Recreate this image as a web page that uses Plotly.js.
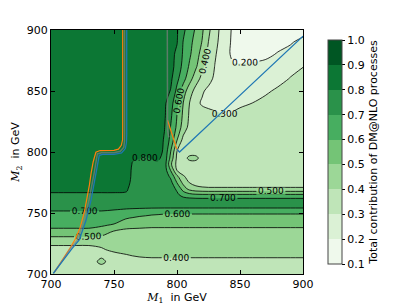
<!DOCTYPE html>
<html><head><meta charset="utf-8">
<script src="https://cdn.plot.ly/plotly-3.0.1.min.js"></script>
<style>html,body{margin:0;padding:0;background:#fff;} #chart{width:407px;height:305px;}</style>
</head><body><div id="chart"></div>
<script>
// Grid coordinates (GeV)
const m1 = [700,710,720,730,740,750,760,765,770,775,780,785,790,795,800,805,810,815,820,825,830,835,840,845,850,860,870,880,890,900];
const m2 = [700,705,710,715,720,725,730,735,740,745,750,755,760,765,770,775,780,785,790,795,800,810,820,830,840,850,860,870,880,890,900];
// Total contribution of DM@NLO processes, one row per M2 value
const z700 = [0.35,0.35,0.35,0.35,0.35,0.34,0.34,0.34,0.34,0.335,0.33,0.33,0.33,0.33,0.33,0.33,0.33,0.33,0.33,0.33,0.33,0.33,0.33,0.33,0.33,0.33,0.33,0.33,0.33,0.33];
const z705 = [0.36,0.36,0.36,0.36,0.38,0.36,0.36,0.36,0.36,0.355,0.35,0.35,0.35,0.35,0.35,0.35,0.35,0.35,0.35,0.35,0.35,0.35,0.35,0.35,0.35,0.35,0.35,0.35,0.35,0.35];
const z710 = [0.37,0.37,0.37,0.37,0.415,0.37,0.375,0.378,0.38,0.38,0.38,0.38,0.38,0.38,0.38,0.38,0.38,0.38,0.38,0.38,0.38,0.38,0.38,0.38,0.38,0.38,0.38,0.38,0.38,0.38];
const z715 = [0.38,0.38,0.38,0.38,0.39,0.385,0.395,0.401,0.405,0.408,0.41,0.41,0.41,0.41,0.41,0.41,0.41,0.41,0.41,0.41,0.41,0.41,0.41,0.41,0.41,0.41,0.41,0.41,0.41,0.41];
const z720 = [0.39,0.39,0.39,0.39,0.395,0.41,0.42,0.423,0.425,0.428,0.43,0.43,0.43,0.43,0.43,0.43,0.43,0.43,0.43,0.43,0.43,0.43,0.43,0.43,0.43,0.43,0.43,0.43,0.43,0.43];
const z725 = [0.405,0.405,0.405,0.405,0.41,0.43,0.44,0.443,0.445,0.448,0.45,0.45,0.45,0.45,0.45,0.45,0.45,0.45,0.45,0.45,0.45,0.45,0.45,0.45,0.45,0.45,0.45,0.45,0.45,0.45];
const z730 = [0.49,0.49,0.49,0.49,0.48,0.46,0.46,0.463,0.465,0.468,0.47,0.47,0.47,0.47,0.47,0.47,0.47,0.47,0.47,0.47,0.47,0.47,0.47,0.47,0.47,0.47,0.47,0.47,0.47,0.47];
const z735 = [0.58,0.58,0.58,0.58,0.56,0.495,0.48,0.483,0.485,0.485,0.485,0.485,0.485,0.485,0.485,0.485,0.485,0.485,0.485,0.485,0.485,0.485,0.485,0.485,0.485,0.485,0.485,0.485,0.485,0.485];
const z740 = [0.62,0.62,0.62,0.62,0.61,0.59,0.53,0.52,0.515,0.512,0.51,0.51,0.51,0.51,0.51,0.51,0.51,0.51,0.51,0.51,0.51,0.51,0.51,0.51,0.51,0.51,0.51,0.51,0.51,0.51];
const z745 = [0.66,0.66,0.66,0.66,0.65,0.64,0.595,0.583,0.57,0.565,0.56,0.558,0.555,0.552,0.55,0.55,0.55,0.55,0.55,0.55,0.55,0.55,0.55,0.55,0.55,0.55,0.55,0.55,0.55,0.55];
const z750 = [0.69,0.69,0.69,0.69,0.69,0.68,0.66,0.65,0.64,0.63,0.62,0.615,0.61,0.61,0.61,0.61,0.61,0.61,0.61,0.61,0.61,0.61,0.61,0.61,0.61,0.61,0.61,0.61,0.61,0.61];
const z755 = [0.72,0.72,0.72,0.72,0.72,0.72,0.72,0.72,0.72,0.72,0.72,0.72,0.72,0.72,0.72,0.72,0.72,0.72,0.72,0.72,0.72,0.72,0.72,0.72,0.72,0.72,0.72,0.72,0.72,0.72];
const z760 = [0.76,0.76,0.76,0.76,0.76,0.76,0.76,0.76,0.76,0.76,0.76,0.76,0.76,0.765,0.765,0.76,0.76,0.76,0.76,0.76,0.76,0.76,0.76,0.76,0.76,0.76,0.76,0.76,0.76,0.76];
const z765 = [0.79,0.79,0.79,0.79,0.79,0.79,0.79,0.785,0.78,0.78,0.78,0.78,0.78,0.77,0.72,0.66,0.63,0.615,0.61,0.61,0.61,0.61,0.61,0.61,0.61,0.61,0.61,0.61,0.61,0.61];
const z770 = [0.82,0.82,0.82,0.82,0.82,0.82,0.81,0.77,0.76,0.76,0.76,0.762,0.765,0.75,0.68,0.55,0.46,0.425,0.415,0.41,0.41,0.41,0.41,0.41,0.41,0.41,0.41,0.41,0.41,0.41];
const z775 = [0.84,0.84,0.84,0.84,0.84,0.84,0.835,0.77,0.76,0.755,0.755,0.76,0.76,0.73,0.595,0.47,0.395,0.37,0.36,0.36,0.36,0.36,0.36,0.36,0.36,0.36,0.36,0.36,0.36,0.36];
const z780 = [0.85,0.85,0.85,0.85,0.85,0.85,0.85,0.775,0.765,0.76,0.76,0.765,0.76,0.68,0.52,0.41,0.365,0.355,0.35,0.35,0.35,0.35,0.35,0.35,0.35,0.35,0.35,0.35,0.35,0.35];
const z785 = [0.85,0.85,0.85,0.85,0.85,0.85,0.85,0.78,0.765,0.76,0.765,0.77,0.755,0.595,0.398,0.355,0.35,0.35,0.35,0.35,0.35,0.35,0.35,0.35,0.35,0.35,0.35,0.35,0.35,0.35];
const z790 = [0.85,0.85,0.85,0.85,0.85,0.85,0.85,0.79,0.77,0.765,0.775,0.78,0.76,0.52,0.37,0.35,0.35,0.35,0.35,0.35,0.35,0.35,0.35,0.35,0.35,0.35,0.35,0.35,0.35,0.35];
const z795 = [0.85,0.85,0.85,0.85,0.85,0.85,0.85,0.81,0.805,0.79,0.81,0.815,0.77,0.57,0.38,0.35,0.43,0.43,0.35,0.35,0.35,0.35,0.35,0.35,0.35,0.35,0.35,0.35,0.35,0.35];
const z800 = [0.85,0.85,0.85,0.85,0.85,0.85,0.85,0.84,0.83,0.82,0.83,0.84,0.78,0.598,0.395,0.35,0.35,0.35,0.35,0.35,0.35,0.35,0.35,0.35,0.35,0.35,0.35,0.35,0.35,0.35];
const z810 = [0.85,0.85,0.85,0.85,0.85,0.85,0.85,0.85,0.85,0.85,0.85,0.85,0.79,0.67,0.505,0.37,0.35,0.35,0.35,0.35,0.35,0.35,0.35,0.35,0.35,0.35,0.35,0.35,0.35,0.35];
const z820 = [0.85,0.85,0.85,0.85,0.85,0.85,0.85,0.85,0.85,0.85,0.85,0.85,0.805,0.695,0.58,0.45,0.37,0.35,0.35,0.35,0.35,0.35,0.35,0.35,0.35,0.35,0.35,0.35,0.35,0.35];
const z830 = [0.85,0.85,0.85,0.85,0.85,0.85,0.85,0.85,0.85,0.85,0.85,0.85,0.815,0.72,0.598,0.48,0.385,0.35,0.335,0.325,0.315,0.305,0.295,0.31,0.325,0.34,0.35,0.35,0.35,0.35];
const z840 = [0.85,0.85,0.85,0.85,0.85,0.85,0.85,0.85,0.85,0.85,0.85,0.85,0.82,0.74,0.625,0.498,0.398,0.32,0.29,0.28,0.275,0.275,0.275,0.28,0.285,0.301,0.325,0.34,0.35,0.35];
const z850 = [0.85,0.85,0.85,0.85,0.85,0.85,0.85,0.85,0.85,0.85,0.85,0.85,0.84,0.795,0.675,0.55,0.44,0.367,0.31,0.28,0.265,0.255,0.25,0.25,0.255,0.265,0.285,0.315,0.335,0.345];
const z860 = [0.85,0.85,0.85,0.85,0.85,0.85,0.85,0.85,0.85,0.85,0.85,0.85,0.85,0.82,0.725,0.633,0.54,0.44,0.373,0.327,0.285,0.26,0.245,0.24,0.24,0.245,0.255,0.27,0.305,0.33];
const z870 = [0.85,0.85,0.85,0.85,0.85,0.85,0.85,0.85,0.85,0.85,0.85,0.85,0.85,0.83,0.77,0.667,0.586,0.514,0.42,0.355,0.298,0.26,0.215,0.21,0.215,0.23,0.24,0.25,0.27,0.298];
const z880 = [0.85,0.85,0.85,0.85,0.85,0.85,0.85,0.85,0.85,0.85,0.85,0.85,0.85,0.83,0.78,0.686,0.614,0.543,0.46,0.375,0.31,0.265,0.215,0.18,0.16,0.15,0.17,0.21,0.235,0.26];
const z890 = [0.85,0.85,0.85,0.85,0.85,0.85,0.85,0.85,0.85,0.85,0.85,0.85,0.85,0.84,0.805,0.695,0.629,0.562,0.495,0.398,0.33,0.27,0.22,0.18,0.16,0.15,0.15,0.16,0.19,0.23];
const z900 = [0.85,0.85,0.85,0.85,0.85,0.85,0.85,0.85,0.85,0.85,0.85,0.85,0.85,0.85,0.81,0.72,0.65,0.586,0.514,0.42,0.343,0.278,0.222,0.185,0.16,0.15,0.15,0.15,0.15,0.16];
const zGrid = [z700,z705,z710,z715,z720,z725,z730,z735,z740,z745,z750,z755,z760,z765,z770,z775,z780,z785,z790,z795,z800,z810,z820,z830,z840,z850,z860,z870,z880,z890,z900];

// Overlaid curves (M1, M2)
const orangeLeftM1 = [703,707,711,715,719,723,726.5,729,730.5,731.8,733.5,735.6,739,750,753.5,755.8,756.8,756.9,756.9];
const orangeLeftM2 = [702,708,714,721,728,737.5,751,763.4,773,782.5,792,799.8,801.2,801.3,802.3,805.5,810,820,900];
const grayLeftM1 = [702,706,711,715.5,721,726.2,730.2,734.2,736.8,740,750,755,757.8,758.3,758.4,758.4];
const grayLeftM2 = [700.5,707,714,721,727.9,744,760.7,782.5,798.4,799.4,799.4,800.6,804,809,815,900];
const blueLeftM1 = [701.8,706.5,711.8,716.8,722.4,727.8,731.8,735.8,738.3,741,750,756,759,759.9,760.1,760.1];
const blueLeftM2 = [700.5,707,714,721,727.9,744,760.7,782.5,797.3,798,798,799.2,802.8,808,815,900];
const grayRightM1 = [792.3,792.3,792.5,793.5];
const grayRightM2 = [900,840,818,812];
const orangeRightM1 = [792.5,794.4,796.5,798.4,800,801.5];
const orangeRightM2 = [826,819.7,812,806,802,800.6];
const blueRightM1 = [799.8,802,835.5,870,900];
const blueRightM2 = [802.3,800,832.5,866,895];

const levelColors = ['#eff9ec','#dbf1d5','#bfe5b8','#9cd797','#74c476','#47ae60','#2a924a','#0c7734','#005623'];
const fillStops = [0,0.15,0.25,0.35,0.45,0.55,0.65,0.75,0.85,1];
const barStops = [0,0.1111,0.2222,0.3333,0.4444,0.5556,0.6667,0.7778,0.8889,1];
const cbTicks = [0.1,0.2,0.3,0.4,0.5,0.6,0.7,0.8,0.9,1.0];
const cbTickText = ['0.1','0.2','0.3','0.4','0.5','0.6','0.7','0.8','0.9','1.0'];

const fillScale = [];
const barScale = [];
levelColors.forEach((c,i)=>{
  fillScale.push([fillStops[i],c],[fillStops[i+1],c]);
  barScale.push([barStops[i],c],[barStops[i+1],c]);
});

const FONT = 'DejaVu Sans';
const traces = [
  {type:'contour', x:m1, y:m2, z:zGrid, autocontour:false,
   contours:{start:0.1,end:1.0,size:0.1,coloring:'fill',showlines:true,showlabels:true,
     labelformat:'.3f', labelfont:{family:FONT,size:9,color:'#000'}},
   line:{color:'#000',width:0.8,smoothing:1},
   colorscale:fillScale, showscale:false, hoverinfo:'skip'},
  {type:'scatter',mode:'lines',x:orangeLeftM1,y:orangeLeftM2,line:{color:'#ff7f0e',width:1.2},hoverinfo:'skip'},
  {type:'scatter',mode:'lines',x:orangeRightM1,y:orangeRightM2,line:{color:'#ff7f0e',width:1.2},hoverinfo:'skip'},
  {type:'scatter',mode:'lines',x:grayLeftM1,y:grayLeftM2,line:{color:'#7f7f7f',width:1.5},opacity:0.7,hoverinfo:'skip'},
  {type:'scatter',mode:'lines',x:grayRightM1,y:grayRightM2,line:{color:'#7f7f7f',width:1.5},opacity:0.7,hoverinfo:'skip'},
  {type:'scatter',mode:'lines',x:blueLeftM1,y:blueLeftM2,line:{color:'#1f77b4',width:1.3},hoverinfo:'skip'},
  {type:'scatter',mode:'lines',x:blueRightM1,y:blueRightM2,line:{color:'#1f77b4',width:1.3},hoverinfo:'skip'},
  {type:'scatter',mode:'markers',x:[null],y:[null],hoverinfo:'skip',
   marker:{color:[0.5],cmin:0.1,cmax:1.0,colorscale:barScale,showscale:true,
     colorbar:{x:1.06,xanchor:'left',y:0.5,yanchor:'middle',len:1,lenmode:'fraction',thickness:14,
       outlinecolor:'#444',outlinewidth:1,ticks:'outside',ticklen:3,tickcolor:'#000',
       tickvals:cbTicks,ticktext:cbTickText,tickfont:{family:FONT,size:11,color:'#000'},
       title:{text:'Total contribution of DM@NLO processes',side:'right',font:{family:FONT,size:11,color:'#000'}}}}}
];
const axisCommon = {range:[700,900],tickvals:[700,750,800,850,900],ticks:'inside',ticklen:4,tickcolor:'#000',
  showline:true,linecolor:'#000',linewidth:1,mirror:'ticks',showgrid:false,zeroline:false,automargin:false,
  tickfont:{family:FONT,size:11,color:'#000'}};
const layout = {
  width:407,height:305,margin:{l:51,r:104,t:30,b:31,pad:0},
  paper_bgcolor:'#fff',plot_bgcolor:'#fff',showlegend:false,
  font:{family:FONT,size:11,color:'#000'},
  xaxis:Object.assign({},axisCommon,{title:{text:'<span style="font-family:DejaVu Serif"><i>M</i><sub>1</sub></span>  in GeV',standoff:2,font:{family:FONT,size:11}}}),
  yaxis:Object.assign({},axisCommon,{title:{text:'<span style="font-family:DejaVu Serif"><i>M</i><sub>2</sub></span>  in GeV',standoff:4,font:{family:FONT,size:11}}})
};
Plotly.newPlot('chart',traces,layout,{staticPlot:true,displayModeBar:false});
</script></body></html>
